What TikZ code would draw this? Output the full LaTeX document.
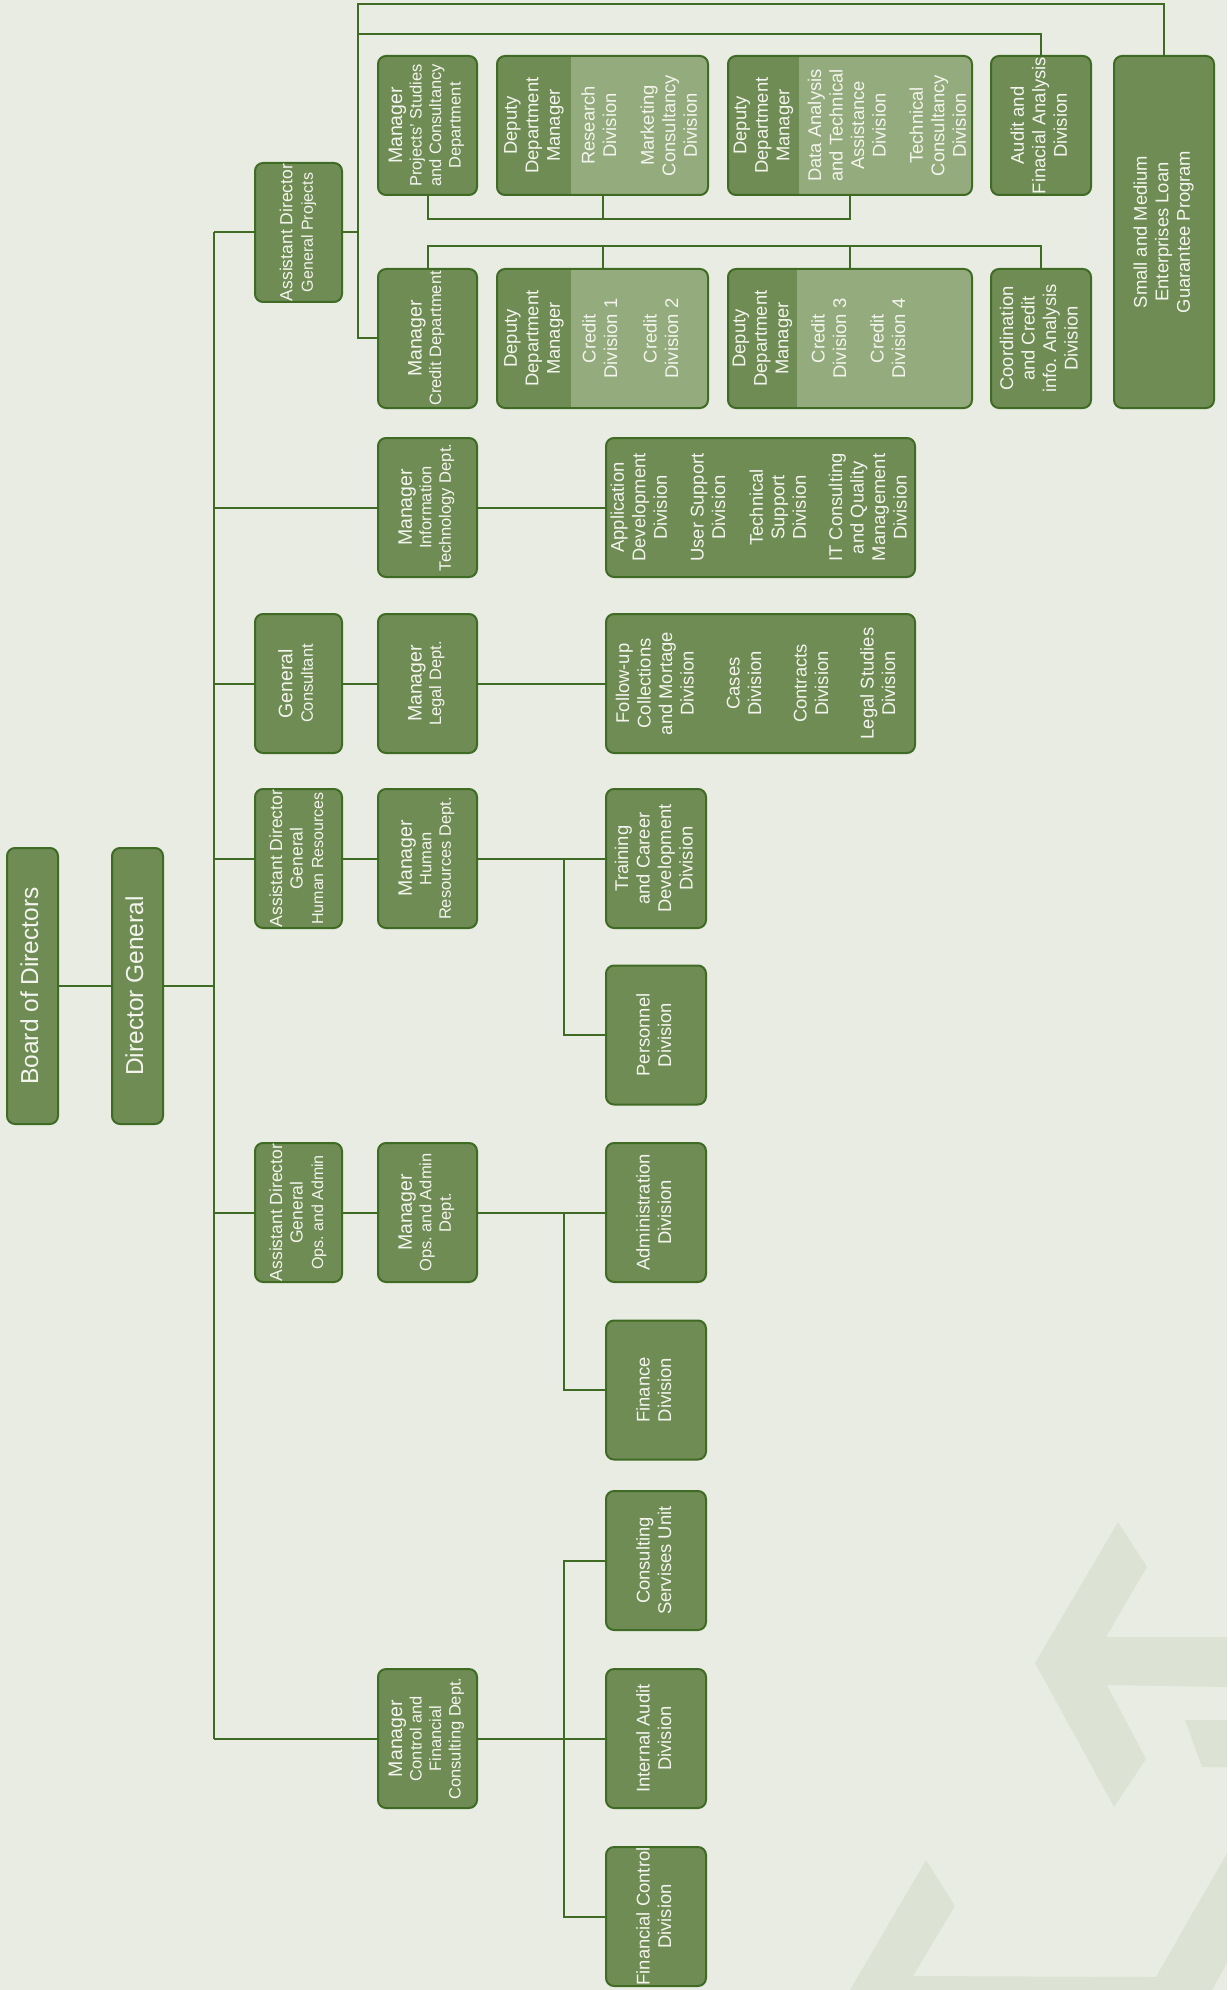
\documentclass[tikz,border=0pt]{standalone}
\usepackage{fontspec}
\setmainfont{Liberation Sans}
\usepackage{graphicx}
\usetikzlibrary{calc,positioning}
\frenchspacing

\definecolor{pagebg}{HTML}{E9ECE2}
\definecolor{markbg}{HTML}{DDE3D4}
\definecolor{boxgreen}{HTML}{6F8C55}
\definecolor{lightgreen}{HTML}{94AB7D}
\definecolor{linegreen}{HTML}{3F6B25}
\definecolor{boxtext}{HTML}{F4F5EE}

\newcommand{\vlines}[1]{\rotatebox{90}{\begin{tabular}{@{}c@{}}#1\end{tabular}}}
\newcommand{\subl}{\fontsize{8.25}{9.75}\selectfont}
\newcommand{\smalll}{\fontsize{8}{10.25}\selectfont}

\begin{document}
\begin{tikzpicture}[x=0.5pt,y=-0.5pt,
  box/.style={draw=linegreen,line width=1pt,fill=boxgreen,rounded corners=4pt,inner sep=0pt,text=boxtext},
  topbox/.style={box,minimum width=25.5pt,minimum height=138pt,font=\fontsize{12.25}{14}\selectfont},
  asst/.style={box,minimum width=43.5pt,minimum height=69.5pt,font=\fontsize{8.75}{10.25}\selectfont},
  mgr/.style={box,minimum width=49.5pt,minimum height=69.5pt,font=\fontsize{9.75}{9.75}\selectfont},
  divn/.style={box,minimum width=50pt,minimum height=69.5pt,font=\fontsize{9.2}{10.75}\selectfont},
  wide/.style={divn,minimum width=154.5pt},
  deputy/.style 2 args={divn,fill=lightgreen,minimum width=#1,
    path picture={\fill[boxgreen,sharp corners] (path picture bounding box.north west) rectangle ([xshift=#2]path picture bounding box.south west);}},
  lbl/.style={inner sep=0pt,text=boxtext,font=\fontsize{9.2}{10.75}\selectfont},
  conn/.style={draw=linegreen,line width=1pt}]
\useasboundingbox (0,0) rectangle (1227,1990);
\fill[pagebg] (0,0) rectangle (1227,1990);
% watermark
\fill[markbg] (1118,1522) -- (1035,1663) -- (1114,1807) -- (1146,1759) -- (1107,1685) -- (1227,1687) -- (1227,1637) -- (1106,1637) -- (1147,1567) -- cycle;
\fill[markbg] (1185,1720) -- (1227,1720) -- (1227,1767) -- (1202,1767) -- cycle;
\fill[markbg] (850,1990) -- (926,1860) -- (955,1906) -- (913,1976) -- (1156,1977) -- (1227,1853) -- (1227,1963) -- (1212,1990) -- cycle;

% top of the chart
\node[topbox] (bod) at (32.5,986) {\vlines{Board of Directors}};
\node[topbox] (dg) at (137.5,986) {\vlines{Director General}};

% general projects
\node[asst] (adgp) at (298.5,232.5) {\vlines{Assistant Director\\ \smalll General Projects}};
\node[mgr] (mps) at (427.5,125.5) {\vlines{Manager\\ \subl Projects’ Studies\\ \subl and Consultancy\\ \subl Department}};
\node[mgr] (mcr) at (427.5,338.5) {\vlines{Manager\\ \subl Credit Department}};
\node[deputy={105.5pt}{37pt}] (dep1) at (602.5,125.5) {};
\node[deputy={122pt}{35.5pt}] (dep2) at (850,125.5) {};
\node[deputy={105.5pt}{37pt}] (dep3) at (602.5,338.5) {};
\node[deputy={122pt}{34.5pt}] (dep4) at (850,338.5) {};
\node[lbl] (dep1m) at (534,125.5) {\vlines{Deputy\\ Department\\ Manager}};
\node[lbl] (dep1a) at (601,125.5) {\vlines{Research\\ Division}};
\node[lbl] (dep1b) at (671,125.5) {\vlines{Marketing\\ Consultancy\\ Division}};
\node[lbl] (dep2m) at (763.5,125.5) {\vlines{Deputy\\ Department\\ Manager}};
\node[lbl] (dep2a) at (849,125.5) {\vlines{Data Analysis\\ and Technical\\ Assistance\\ Division}};
\node[lbl] (dep2b) at (940,125.5) {\vlines{Technical\\ Consultancy\\ Division}};
\node[lbl] (dep3m) at (534,338.5) {\vlines{Deputy\\ Department\\ Manager}};
\node[lbl] (dep3a) at (602,338.5) {\vlines{Credit\\ Division 1}};
\node[lbl] (dep3b) at (663,338.5) {\vlines{Credit\\ Division 2}};
\node[lbl] (dep4m) at (762.5,338.5) {\vlines{Deputy\\ Department\\ Manager}};
\node[lbl] (dep4a) at (831,338.5) {\vlines{Credit\\ Division 3}};
\node[lbl] (dep4b) at (890,338.5) {\vlines{Credit\\ Division 4}};
\node[divn] (aud) at (1041,125.5) {\vlines{Audit and\\ Finacial Analysis\\ Division}};
\node[divn] (coord) at (1041,338.5) {\vlines{Coordination\\ and Credit\\ info. Analysis\\ Division}};
\node[divn,minimum height=176pt] (sme) at (1164,232) {\vlines{Small and Medium\\ Enterprises Loan\\ Guarantee Program}};

% information technology
\node[mgr] (mit) at (427.5,507.5) {\vlines{Manager\\ \subl Information\\ \subl Technology Dept.}};
\node[wide] (itd) at (760.5,507.5) {};
\node[lbl] (itd1) at (641,507.5) {\vlines{Application\\ Development\\ Division}};
\node[lbl] (itd2) at (710,507.5) {\vlines{User Support\\ Division}};
\node[lbl] (itd3) at (780,507.5) {\vlines{Technical\\ Support\\ Division}};
\node[lbl] (itd4) at (870,507.5) {\vlines{IT Consulting\\ and Quality\\ Management\\ Division}};

% legal
\node[asst] (gcons) at (298.5,683.5) {\vlines{\fontsize{9.75}{10.25}\selectfont General\\ \subl Consultant}};
\node[mgr] (mlg) at (427.5,683.5) {\vlines{Manager\\ \subl Legal Dept.}};
\node[wide] (lgd) at (760.5,683.5) {};
\node[lbl] (lgd1) at (657,683.5) {\vlines{Follow-up\\ Collections\\ and Mortage\\ Division}};
\node[lbl] (lgd2) at (746,683.5) {\vlines{Cases\\ Division}};
\node[lbl] (lgd3) at (813,683.5) {\vlines{Contracts\\ Division}};
\node[lbl] (lgd4) at (880,683.5) {\vlines{Legal Studies\\ Division}};

% human resources
\node[asst] (adhr) at (298.5,858.5) {\vlines{Assistant Director\\ General\\ \smalll Human Resources}};
\node[mgr] (mhr) at (427.5,858.5) {\vlines{Manager\\ \subl Human\\ \subl Resources Dept.}};
\node[divn] (trn) at (656,858.5) {\vlines{Training\\ and Career\\ Development\\ Division}};
\node[divn] (pers) at (656,1035) {\vlines{Personnel\\ Division}};

% operations and admin
\node[asst] (adops) at (298.5,1212.5) {\vlines{Assistant Director\\ General\\ \smalll Ops. and Admin}};
\node[mgr] (mops) at (427.5,1212.5) {\vlines{Manager\\ \subl Ops. and Admin\\ \subl Dept.}};
\node[divn] (adm) at (656,1212.5) {\vlines{Administration\\ Division}};
\node[divn] (fin) at (656,1390) {\vlines{Finance\\ Division}};

% control and financial consulting
\node[divn] (cons) at (656,1560.5) {\vlines{Consulting\\ Servises Unit}};
\node[mgr] (mcf) at (427.5,1738.5) {\vlines{Manager\\ \subl Control and\\ \subl Financial\\ \subl Consulting Dept.}};
\node[divn] (ia) at (656,1738.5) {\vlines{Internal Audit\\ Division}};
\node[divn] (fc) at (656,1916.5) {\vlines{Financial Control\\ Division}};

% connectors
\coordinate (tk) at (214,0);
\coordinate (gpbus) at (358,0);
\coordinate (divbus) at (564,0);
\coordinate (toprow) at (0,4);
\coordinate (secrow) at (0,34);
\coordinate (psrow) at (0,219);
\coordinate (crrow) at (0,246);

\draw[conn] (bod) -- (dg);
\draw[conn] (dg) -- (dg -| tk);
\draw[conn] (adgp -| tk) -- (mcf -| tk);
\foreach \n in {adgp,mit,gcons,adhr,adops,mcf}
  \draw[conn] (\n -| tk) -- (\n);

\draw[conn] (adgp) -- (adgp -| gpbus);
\draw[conn] (sme.north) |- (toprow -| gpbus) |- (mcr);
\draw[conn] (aud.north) |- (secrow -| gpbus);
\draw[conn] (mps.south) |- (psrow -| dep2.south) -- (dep2.south);
\draw[conn] (dep1.south) -- (dep1.south |- psrow);
\draw[conn] (mcr.north) |- (crrow -| coord.north) -- (coord.north);
\draw[conn] (dep3.north) -- (dep3.north |- crrow);
\draw[conn] (dep4.north) -- (dep4.north |- crrow);

\draw[conn] (mit) -- (itd);
\draw[conn] (gcons) -- (mlg);
\draw[conn] (mlg) -- (lgd);
\draw[conn] (adhr) -- (mhr);
\draw[conn] (mhr) -- (trn);
\draw[conn] (mhr -| divbus) |- (pers);
\draw[conn] (adops) -- (mops);
\draw[conn] (mops) -- (adm);
\draw[conn] (mops -| divbus) |- (fin);
\draw[conn] (mcf) -- (ia);
\draw[conn] (cons) -| (fc -| divbus) -- (fc);
\end{tikzpicture}
\end{document}
